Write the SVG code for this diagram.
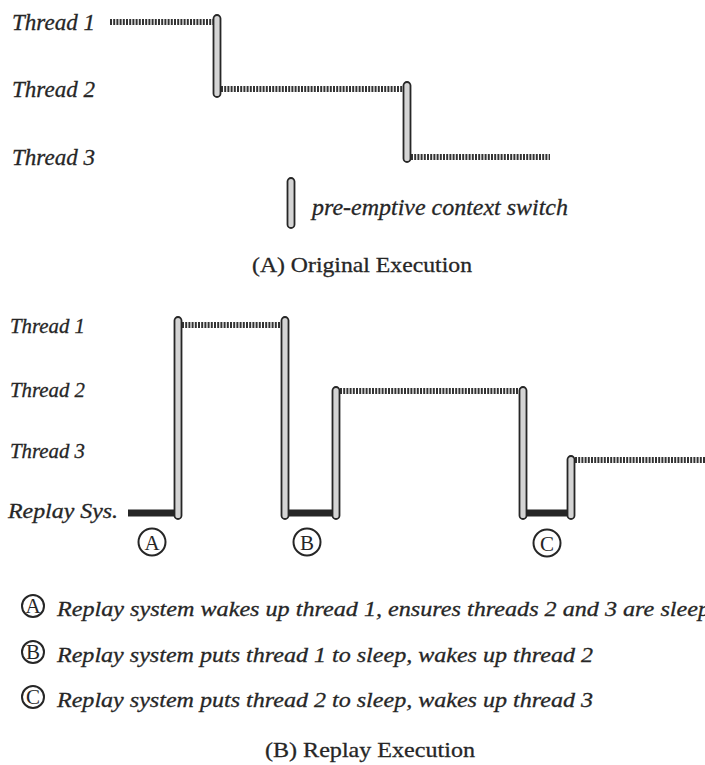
<svg xmlns="http://www.w3.org/2000/svg" width="705" height="765" viewBox="0 0 705 765">
<style>
.lbl{font-family:"Liberation Serif","Times New Roman",serif;font-style:italic;fill:#262626;stroke:#262626;stroke-width:0.3}
.ttl{font-family:"Liberation Serif","Times New Roman",serif;font-size:22px;fill:#262626;stroke:#262626;stroke-width:0.3}
.run{stroke:#333;stroke-width:6;stroke-dasharray:2 1.2;fill:none}
.sys{stroke:#262626;stroke-width:7;fill:none}
.sw{fill:#d4d4d4;stroke:#262626;stroke-width:1.8}
.circ{fill:#fff;stroke:#262626;stroke-width:2}
.cl{font-family:"Liberation Serif","Times New Roman",serif;font-size:21px;fill:#262626;text-anchor:middle}
</style>
<rect width="705" height="765" fill="#fff"/>

<!-- (A) Original Execution -->
<g id="labels-a">
<text class="lbl" x="12" y="30" font-size="23" textLength="83" lengthAdjust="spacingAndGlyphs">Thread 1</text>
<text class="lbl" x="12" y="97" font-size="23" textLength="83" lengthAdjust="spacingAndGlyphs">Thread 2</text>
<text class="lbl" x="12" y="165" font-size="23" textLength="83" lengthAdjust="spacingAndGlyphs">Thread 3</text>
</g>
<g id="connectors-a">
<line class="run" x1="110" y1="22" x2="214" y2="22"/>
<line class="run" x1="221" y1="89" x2="404" y2="89"/>
<line class="run" x1="411" y1="157" x2="550" y2="157"/>
</g>
<g id="switches-a">
<rect class="sw" x="213.5" y="15" width="7" height="82" rx="3.5"/>
<rect class="sw" x="403.5" y="82" width="7" height="80" rx="3.5"/>
</g>
<g id="legend-a">
<rect class="sw" x="287.5" y="178" width="7" height="50" rx="3.5"/>
<text class="lbl" x="312" y="215" font-size="23" textLength="256" lengthAdjust="spacingAndGlyphs">pre-emptive context switch</text>
</g>
<text class="ttl" x="252" y="272" textLength="220" lengthAdjust="spacingAndGlyphs">(A) Original Execution</text>

<!-- (B) Replay Execution -->
<g id="labels-b">
<text class="lbl" x="10" y="333" font-size="21" textLength="75" lengthAdjust="spacingAndGlyphs">Thread 1</text>
<text class="lbl" x="10" y="397" font-size="21" textLength="75" lengthAdjust="spacingAndGlyphs">Thread 2</text>
<text class="lbl" x="10" y="458" font-size="21" textLength="75" lengthAdjust="spacingAndGlyphs">Thread 3</text>
<text class="lbl" x="8" y="518" font-size="21" textLength="110" lengthAdjust="spacingAndGlyphs">Replay Sys.</text>
</g>
<g id="connectors-b">
<line class="sys" x1="128" y1="513" x2="176" y2="513"/>
<line class="run" x1="182" y1="325" x2="282" y2="325"/>
<line class="sys" x1="288" y1="513" x2="334" y2="513"/>
<line class="run" x1="340" y1="391" x2="520" y2="391"/>
<line class="sys" x1="526" y1="513" x2="569" y2="513"/>
<line class="run" x1="575" y1="460" x2="705" y2="460"/>
</g>
<g id="switches-b">
<rect class="sw" x="174.5" y="317" width="7" height="202" rx="3.5"/>
<rect class="sw" x="281.5" y="317" width="7" height="202" rx="3.5"/>
<rect class="sw" x="332.5" y="387" width="7" height="132" rx="3.5"/>
<rect class="sw" x="519.5" y="387" width="7" height="132" rx="3.5"/>
<rect class="sw" x="567.5" y="456" width="7" height="63" rx="3.5"/>
</g>
<g id="markA"><circle class="circ" cx="152" cy="542" r="13.5"/><text class="cl" x="152" y="549.5">A</text></g>
<g id="markB"><circle class="circ" cx="307" cy="542" r="13.5"/><text class="cl" x="307" y="549.5">B</text></g>
<g id="markC"><circle class="circ" cx="547" cy="543" r="13.5"/><text class="cl" x="547" y="550.5">C</text></g>

<g id="legend-b">
<g id="legA"><circle class="circ" cx="33" cy="606" r="11"/><text class="cl" x="33" y="612.5" font-size="18">A</text>
<text class="lbl" x="57" y="616" font-size="21" textLength="653" lengthAdjust="spacingAndGlyphs">Replay system wakes up thread 1, ensures threads 2 and 3 are sleep</text></g>
<g id="legB"><circle class="circ" cx="33" cy="652" r="11"/><text class="cl" x="33" y="658.5" font-size="18">B</text>
<text class="lbl" x="57" y="662" font-size="21" textLength="536" lengthAdjust="spacingAndGlyphs">Replay system puts thread 1 to sleep, wakes up thread 2</text></g>
<g id="legC"><circle class="circ" cx="33" cy="697" r="11"/><text class="cl" x="33" y="703.5" font-size="18">C</text>
<text class="lbl" x="57" y="707" font-size="21" textLength="536" lengthAdjust="spacingAndGlyphs">Replay system puts thread 2 to sleep, wakes up thread 3</text></g>
</g>
<text class="ttl" x="265" y="757" textLength="210" lengthAdjust="spacingAndGlyphs">(B) Replay Execution</text>
</svg>
